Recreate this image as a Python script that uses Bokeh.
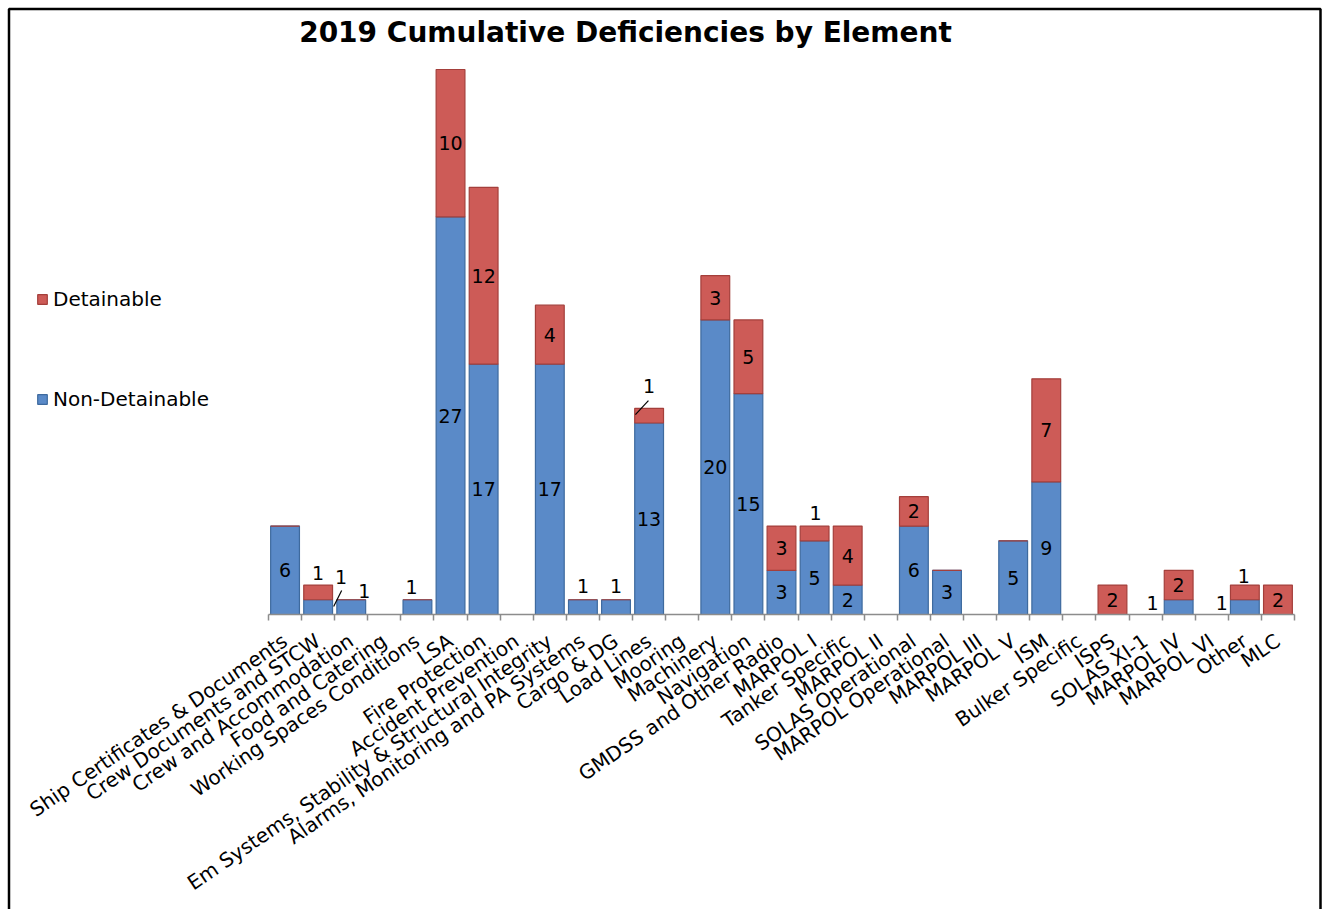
from bokeh.plotting import figure
from bokeh.models import (ColumnDataSource, Range1d, LinearAxis, FixedTicker, Legend,
                          LegendItem, BoxAnnotation, Label)
from bokeh.core.properties import value
from bokeh.embed import file_html
from bokeh.resources import INLINE

# ---------------- data ----------------
categories = [
    "Ship Certificates & Documents", "Crew Documents and STCW", "Crew and Accommodation",
    "Food and Catering", "Working Spaces Conditions", "LSA", "Fire Protection",
    "Accident Prevention", "Em Systems, Stability & Structural Integrity",
    "Alarms, Monitoring and PA Systems", "Cargo & DG", "Load Lines", "Mooring",
    "Machinery", "Navigation", "GMDSS and Other Radio", "MARPOL I", "Tanker Specific",
    "MARPOL II", "SOLAS Operational", "MARPOL Operational", "MARPOL III", "MARPOL V",
    "ISM", "Bulker Specific", "ISPS", "SOLAS XI-1", "MARPOL IV", "MARPOL VI", "Other", "MLC",
]
non_detainable = [6, 1, 1, 0, 1, 27, 17, 0, 17, 1, 1, 13, 0, 20, 15, 3, 5, 2, 0, 6, 3, 0, 5, 9, 0, 0, 0, 1, 0, 1, 0]
detainable     = [0, 1, 0, 0, 0, 10, 12, 0, 4, 0, 0, 1, 0, 3, 5, 3, 1, 4, 0, 2, 0, 0, 0, 7, 0, 2, 0, 2, 0, 1, 2]
series_names = ["Non-Detainable", "Detainable"]
chart_title = "2019 Cumulative Deficiencies by Element"

# ---------------- layout (pixels) ----------------
W, H = 1327, 909
N = len(categories)
AX_LEFT_PX, AX_RIGHT_PX = 268, 1294     # plot area horizontal extent
BASE_PX, REF_PX, REF_VAL = 614, 69, 37  # baseline pixel, pixel of value REF_VAL
PX_X = (AX_RIGHT_PX - AX_LEFT_PX) / N
PX_Y = (BASE_PX - REF_PX) / REF_VAL


def xd(px):
    return -0.5 + (px - AX_LEFT_PX) / PX_X


def yd(py):
    return (BASE_PX - py) / PX_Y


BLUE, BLUE_LINE = "#5A8AC8", "#3E6A9E"
RED, RED_LINE = "#CD5B57", "#A43F3B"
FONT = "DejaVu Sans"

# label displacements (screen px, relative to segment centre) for labels moved outside
blue_label_moves = {1: (23, -30), 2: (13, -16), 4: (-6, -20), 9: (0, -21), 10: (0, -21),
                    27: (-26, -4), 29: (-23, -4)}
red_label_moves = {1: (0, -19), 11: (0, -30), 16: (1, -20), 29: (-1, -16)}
# leader lines: (series, index, (x0px, y0px), (x1px, y1px)) relative to segment centre
leaders = [(0, 1, (23.5, -16.6), (15.5, -0.6)), (1, 11, (-13.7, -1.0), (-0.7, -15.0))]

p = figure(width=W, height=H, output_backend="svg", toolbar_location=None, title=None,
           x_range=Range1d(xd(0), xd(W)), y_range=Range1d(yd(H), yd(0)),
           x_axis_location=None, y_axis_location=None,
           min_border_left=0, min_border_right=0, min_border_top=0, min_border_bottom=0,
           background_fill_color="white", border_fill_color="white")
p.outline_line_color = None
p.xgrid.visible = False
p.ygrid.visible = False

# outer chart border
p.add_layout(BoxAnnotation(left=xd(8.5), right=xd(1320), top=yd(8.5), bottom=yd(H + 50),
                           fill_alpha=0, fill_color=None, line_color="black",
                           line_alpha=1.0, line_width=2.5))

# title
p.add_layout(Label(x=xd(625), y=yd(32), text=chart_title, text_align="center",
                   text_baseline="middle", text_font=FONT, text_font_style="bold",
                   text_font_size="28px", text_color="black"))

# bars
xs = list(range(N))
blue_src = ColumnDataSource(dict(
    x=[i for i in xs if non_detainable[i] > 0],
    top=[non_detainable[i] for i in xs if non_detainable[i] > 0]))
tot = [non_detainable[i] + detainable[i] for i in xs]
red_src = ColumnDataSource(dict(
    x=[i for i in xs if tot[i] > 0],
    bottom=[non_detainable[i] for i in xs if tot[i] > 0],
    top=[tot[i] for i in xs if tot[i] > 0]))

r_blue = p.vbar(x="x", top="top", bottom=0, width=0.87, source=blue_src,
                fill_color=BLUE, line_color=BLUE_LINE, line_width=1.2)
r_red = p.vbar(x="x", top="top", bottom="bottom", width=0.87, source=red_src,
               fill_color=RED, line_color=RED_LINE, line_width=1.2)

# data labels
lx, ly, lt, ldx, ldy = [], [], [], [], []
for vals, base, moves in [(non_detainable, [0] * N, blue_label_moves),
                          (detainable, non_detainable, red_label_moves)]:
    for i in xs:
        v = vals[i]
        if v <= 0:
            continue
        dx, dy = moves.get(i, (0, 0))
        lx.append(i)
        ly.append(base[i] + v / 2.0)
        lt.append(str(v))
        ldx.append(dx)
        ldy.append(dy)
lbl_src = ColumnDataSource(dict(x=lx, y=ly, text=lt, dx=ldx, dy=ldy))
p.text(x="x", y="y", text="text", x_offset="dx", y_offset="dy", source=lbl_src,
       text_align="center", text_baseline="middle", text_font=value(FONT),
       text_font_size=value("19px"), text_color="black")

# leader lines
sx0, sy0, sx1, sy1 = [], [], [], []
for s, i, a, b in leaders:
    base = 0 if s == 0 else non_detainable[i]
    vals = non_detainable if s == 0 else detainable
    cy = base + vals[i] / 2.0
    sx0.append(i + a[0] / PX_X); sy0.append(cy - a[1] / PX_Y)
    sx1.append(i + b[0] / PX_X); sy1.append(cy - b[1] / PX_Y)
p.segment(x0=sx0, y0=sy0, x1=sx1, y1=sy1, line_color="black", line_width=1.2)

# x axis (drawn at value 0 inside the canvas)
xaxis = LinearAxis(ticker=FixedTicker(ticks=xs, minor_ticks=[i - 0.5 for i in range(N + 1)]),
                   fixed_location=0, bounds=(-0.5, N - 0.5))
xaxis.major_label_overrides = {i: c for i, c in enumerate(categories)}
xaxis.major_label_orientation = 0.60
xaxis.major_label_text_font = FONT
xaxis.major_label_text_font_size = "20px"
xaxis.major_label_text_color = "black"
xaxis.major_label_standoff = 18
xaxis.axis_line_color = "#8C8C8C"
xaxis.axis_line_width = 1.5
xaxis.major_tick_in = 0
xaxis.major_tick_out = 0
xaxis.minor_tick_in = 0
xaxis.minor_tick_out = 6
xaxis.minor_tick_line_color = "#8C8C8C"
xaxis.minor_tick_line_width = 1.5
p.add_layout(xaxis, "below")

# legend
legend = Legend(items=[LegendItem(label=series_names[1], renderers=[r_red]),
                       LegendItem(label=series_names[0], renderers=[r_blue])],
                location=(36, H - 411), orientation="vertical", spacing=76, padding=0, margin=0,
                border_line_color=None, background_fill_alpha=0,
                label_text_font=FONT, label_text_font_size="20px", label_text_color="black",
                glyph_width=12, glyph_height=12, label_standoff=5, label_height=20)
p.add_layout(legend)

open("out.html", "w").write(file_html(p, INLINE))
